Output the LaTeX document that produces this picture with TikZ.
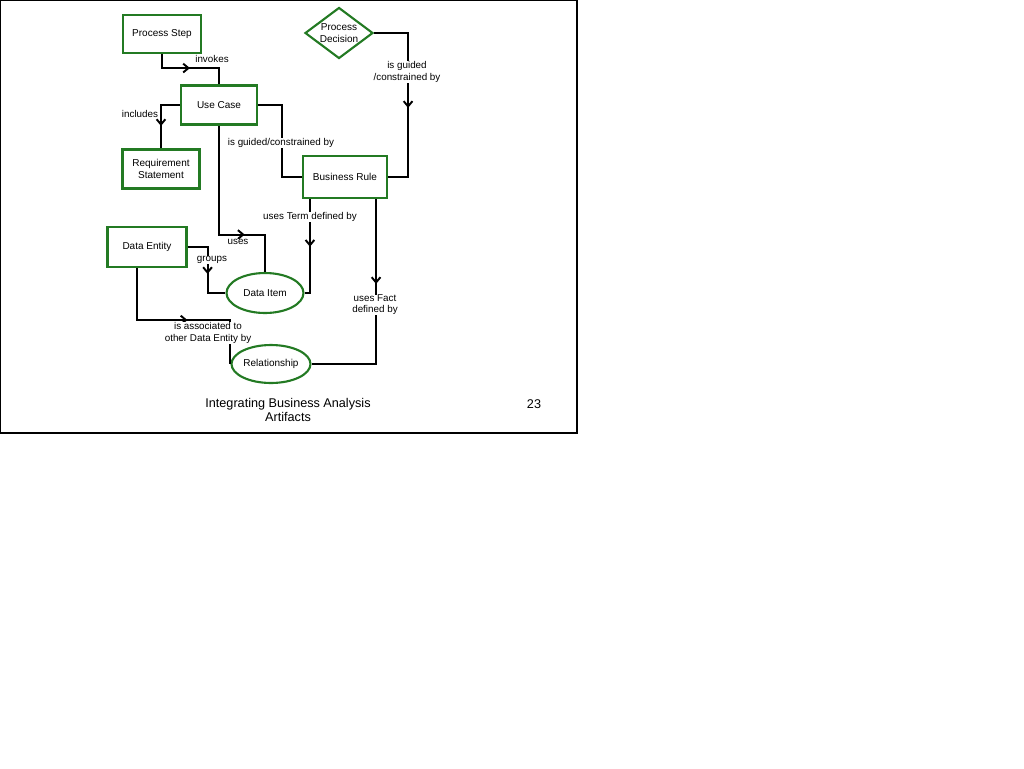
\documentclass[tikz,border=0pt]{standalone}
\usepackage{fontspec}
\setmainfont{Liberation Sans}
\usetikzlibrary{arrows.meta, shapes.geometric, calc, decorations.markings}
\definecolor{boxgreen}{HTML}{237A23}
\definecolor{linkblack}{HTML}{000000}

\begin{document}
\begin{tikzpicture}[x=0.02cm, y=-0.02cm,
    artbox/.style={draw=boxgreen, line width=1.2pt, fill=white, inner sep=0pt, align=center,
      font=\fontsize{5.7}{6.6}\selectfont},
    artellipse/.style={artbox, ellipse},
    artdiamond/.style={artbox, diamond},
    link/.style={draw=linkblack, line width=1.1pt},
    arrowat/.style={postaction={decorate}, decoration={markings,
      mark=at position #1 with {\arrow{Straight Barb[length=3pt, width=5pt, line width=1.1pt]}}}},
    linklabel/.style={fill=white, inner sep=0.2pt, align=center,
      font=\fontsize{5.6}{6.4}\selectfont}]
  % Seite
  \useasboundingbox (0,0) rectangle (1024,768);
  \draw[line width=0.6pt] (0.5,0.5) rectangle (577,433);
  % Artefakte
  \node[artbox, minimum width=1.56cm, minimum height=0.76cm] (procstep) at (162,34) {Process Step};
  \node[artbox, minimum width=1.52cm, minimum height=0.78cm] (usecase) at (219,105) {Use Case};
  \node[artbox, minimum width=1.54cm, minimum height=0.78cm] (reqstmt) at (161,169) {Requirement\\Statement};
  \node[artdiamond, minimum width=1.36cm, minimum height=1.02cm, shape aspect=1.33] (procdec) at (339,33) {Process\\Decision};
  \node[artbox, minimum width=1.68cm, minimum height=0.84cm] (busrule) at (345,177) {Business Rule};
  \node[artbox, minimum width=1.58cm, minimum height=0.80cm] (dataent) at (147,247) {Data Entity};
  \node[artellipse, minimum width=1.54cm, minimum height=0.80cm] (dataitem) at (265,293) {Data Item};
  \node[artellipse, minimum width=1.58cm, minimum height=0.76cm] (relship) at (271,364) {Relationship};
  % Verbindungen
  \draw[link, arrowat=0.48] (procstep.south) -- ++(0,14) -| (usecase.north);
  \draw[link, arrowat=0.64] (usecase.west) -| (reqstmt.north);
  \draw[link] (usecase.east) -- ++(24,0) |- (busrule.west);
  \draw[link, arrowat=0.55] (procdec.east) -- ++(34,0) |- (busrule.east);
  \draw[link, arrowat=0.70] (usecase.south) -- ++(0,109) -| (dataitem.north);
  \draw[link, arrowat=0.48] ($(busrule.south west)+(8,0)$) |- (dataitem.east);
  \draw[link, arrowat=0.37] ($(busrule.south east)+(-12,0)$) |- (relship.east);
  \draw[link, arrowat=0.56] (dataent.east) -- ++(20,0) |- (dataitem.west);
  \draw[link, arrowat=0.54] ($(dataent.south west)+(31,0)$) -- ++(0,52) -| (relship.west);
  % Beschriftungen
  \node[linklabel] (lblinvokes) at (212,59) {invokes};
  \node[linklabel] (lblincludes) at (140,114) {includes};
  \node[linklabel] (lblguided) at (281,143) {is guided/constrained\ by};
  \node[linklabel] (lblguidedpd) at (407,72) {is guided\\/constrained by};
  \node[linklabel] (lbluses) at (238,242) {uses};
  \node[linklabel] (lblterm) at (310,217) {uses Term defined by};
  \node[linklabel] (lblfact) at (375,305) {uses Fact\\defined by};
  \node[linklabel] (lblgroups) at (212,260) {groups};
  \node[linklabel] (lblassoc) at (208,333) {is associated to\\other Data Entity by};
  % Fusszeile
  \node[align=center, font=\fontsize{7.2}{8.4}\selectfont] (footer) at (288,410) {Integrating Business Analysis\\Artifacts};
  \node[font=\fontsize{7.2}{8.4}\selectfont] (pagenum) at (534,404) {23};
\end{tikzpicture}
\end{document}
